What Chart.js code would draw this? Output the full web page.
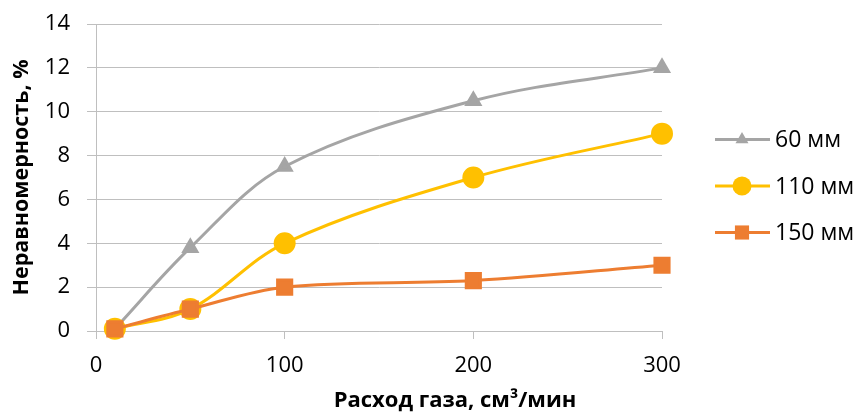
<!DOCTYPE html>
<html>
<head>
<meta charset="utf-8">
<script src="https://cdn.jsdelivr.net/npm/chart.js@4/dist/chart.umd.min.js"></script>
<style>
  html, body { margin: 0; padding: 0; background: #fff; }
  #wrap { width: 857px; height: 413px; }
</style>
</head>
<body>
<div id="wrap"><canvas id="c" width="857" height="413"></canvas></div>
<script>
// data
const flow = [10, 50, 100, 200, 300];
const d60 = [0.1, 3.8, 7.5, 10.5, 12];
const d110 = [0.1, 1, 4, 7, 9];
const d150 = [0.1, 1, 2, 2.3, 3];
const seriesNames = ['60 мм', '110 мм', '150 мм'];
const yTicks = [0, 2, 4, 6, 8, 10, 12, 14];
const xTicks = [0, 100, 200, 300];
const xTitle = 'Расход газа, см³/мин';
const yTitle = 'Неравномерность, %';

const FONT = "'Open Sans', 'Liberation Sans', sans-serif";
const GRID = '#bfbfbf';

const pts = (ys) => flow.map((x, i) => ({ x: x, y: ys[i] }));

// legend as excel draws it: short line with the marker in the middle
const sideLegend = {
	id: 'sideLegend',
	afterDraw(chart) {
		const ctx = chart.ctx;
		const area = chart.chartArea;
		const x0 = area.right + 53;
		let y = area.top + 115.5;
		chart.data.datasets.forEach(ds => {
			ctx.save();
			ctx.strokeStyle = ds.borderColor;
			ctx.lineWidth = ds.borderWidth;
			ctx.beginPath();
			ctx.moveTo(x0, y);
			ctx.lineTo(x0 + 55, y);
			ctx.stroke();
			ctx.fillStyle = ds.pointBackgroundColor;
			ctx.strokeStyle = ds.pointBorderColor;
			ctx.lineWidth = 1;
			Chart.helpers.drawPoint(ctx, { pointStyle: ds.pointStyle, rotation: 0, radius: ds.pointRadius }, x0 + 27, y);
			ctx.fillStyle = '#000';
			ctx.font = '23px ' + FONT;
			ctx.textAlign = 'left';
			ctx.textBaseline = 'middle';
			ctx.fillText(ds.label, x0 + 60, y + 1);
			ctx.restore();
			y += 46.5;
		});
	}
};

// axis titles, placed where excel put them
const axisTitles = {
	id: 'axisTitles',
	afterDraw(chart) {
		const ctx = chart.ctx;
		const area = chart.chartArea;
		ctx.save();
		ctx.fillStyle = '#000';
		ctx.textAlign = 'center';
		ctx.textBaseline = 'middle';
		ctx.font = 'bold 22px ' + FONT;
		ctx.fillText(xTitle, area.right - 207, chart.height - 12);
		ctx.font = 'bold 21.5px ' + FONT;
		ctx.translate(22, (area.top + area.bottom) / 2);
		ctx.rotate(-Math.PI / 2);
		ctx.fillText(yTitle, 0, 0);
		ctx.restore();
	}
};

const mk = (label, ys, color, style, r, ord) => ({
	label: label,
	data: pts(ys),
	borderColor: color,
	backgroundColor: color,
	pointBackgroundColor: color,
	pointBorderColor: color,
	pointStyle: style,
	pointRadius: r,
	pointHoverRadius: r,
	borderWidth: 3,
	tension: 0.35,
	clip: false,
	order: ord
});

new Chart(document.getElementById('c'), {
	type: 'line',
	data: {
		datasets: [
			mk(seriesNames[0], d60, '#a5a5a5', 'triangle', 7.5, 3),
			mk(seriesNames[1], d110, '#ffc000', 'circle', 9.5, 2),
			mk(seriesNames[2], d150, '#ed7d31', 'rect', 10, 1)
		]
	},
	options: {
		responsive: false,
		animation: false,
		layout: { padding: { top: 24, right: 195, left: 0, bottom: 0 } },
		plugins: { legend: { display: false }, tooltip: { enabled: false } },
		scales: {
			x: {
				type: 'linear',
				min: 0,
				max: 300,
				afterBuildTicks: (s) => { s.ticks = xTicks.map(v => ({ value: v })); },
				afterFit: (s) => { s.height = 82; },
				grid: { drawOnChartArea: false, drawTicks: true, tickLength: 8, color: GRID },
				border: { color: GRID, width: 1 },
				ticks: { color: '#000', font: { family: FONT, size: 22 }, padding: 14, maxRotation: 0 }
			},
			y: {
				min: 0,
				max: 14,
				afterBuildTicks: (s) => { s.ticks = yTicks.map(v => ({ value: v })); },
				afterFit: (s) => { s.width = 96; s.paddingTop = 0; s.paddingBottom = 0; },
				grid: { color: GRID, lineWidth: 1, tickLength: 9 },
				border: { color: GRID, width: 1 },
				ticks: { color: '#000', font: { family: FONT, size: 22 }, padding: 17 }
			}
		}
	},
	plugins: [sideLegend, axisTitles]
});
</script>
</body>
</html>
